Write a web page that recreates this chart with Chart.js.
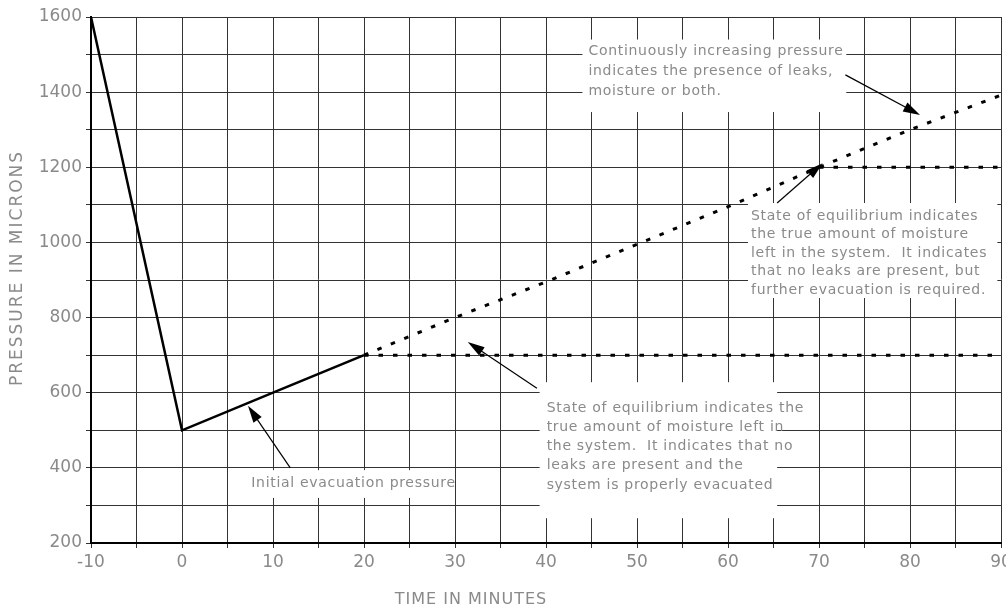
<!DOCTYPE html>
<html>
<head>
<meta charset="utf-8">
<script src="https://cdn.jsdelivr.net/npm/chart.js@4.4.1/dist/chart.umd.min.js"></script>
<style>
  html, body { margin: 0; padding: 0; background: #fff; }
  #wrap { width: 1006px; height: 611px; }
</style>
</head>
<body>
<div id="wrap"><canvas id="evacChart" width="1006" height="611"></canvas></div>
<script>
// minutes / microns
const initialTime = [-10, 0, 10, 20];
const initialPressure = [1600, 500, 600, 700];

const leakTime = [20, 30, 40, 50, 60, 70, 80, 90];
const leakPressure = [700, 800, 895, 995, 1095, 1200, 1300, 1392];

const dryTime = [20, 90];
const dryPressure = [700, 700];

const wetTime = [70, 90];
const wetPressure = [1200, 1200];

const timeTicks = [-10, 0, 10, 20, 30, 40, 50, 60, 70, 80, 90];
const pressureTicks = [200, 400, 600, 800, 1000, 1200, 1400, 1600];

// callouts: box and arrow given in chart units (minutes, microns)
const notes = [
  {
    lines: ['Continuously increasing pressure', 'indicates the presence of leaks,', 'moisture or both.'],
    box: [44, 73, 1540, 1347], padX: 6, padY: 12, lineH: 20,
    arrow: [72.9, 1446, 81.1, 1339]
  },
  {
    lines: ['State of equilibrium indicates', 'the true amount of moisture', 'left in the system.  It indicates', 'that no leaks are present, but', 'further evacuation is required.'],
    box: [62.2, 89.6, 1105, 852], padX: 3, padY: 13, lineH: 18.6,
    arrow: [65.4, 1105, 70.4, 1211]
  },
  {
    lines: ['State of equilibrium indicates the', 'true amount of moisture left in', 'the system.  It indicates that no', 'leaks are present and the', 'system is properly evacuated'],
    box: [39.3, 65.4, 628, 266], padX: 7, padY: 26, lineH: 19.2,
    arrow: [39.0, 612, 31.4, 735]
  },
  {
    lines: ['Initial evacuation pressure'],
    box: [7.5, 30.0, 394, 320], padX: 1, padY: 13, lineH: 18,
    arrow: [11.9, 400, 7.25, 565]
  }
];

const FONT = '"DejaVu Sans", "Liberation Sans", sans-serif';
const GREY = '#8a8a8a';

function pts(xs, ys) {
  return xs.map((x, i) => ({ x: x, y: ys[i] }));
}

const calloutBoxes = {
  id: 'calloutBoxes',
  beforeDatasetsDraw(chart) {
    const ctx = chart.ctx, sx = chart.scales.x, sy = chart.scales.y;
    ctx.save();
    ctx.fillStyle = '#fff';
    notes.forEach(n => {
      const x0 = sx.getPixelForValue(n.box[0]), x1 = sx.getPixelForValue(n.box[1]);
      const y0 = sy.getPixelForValue(n.box[2]), y1 = sy.getPixelForValue(n.box[3]);
      ctx.fillRect(x0, y0, x1 - x0, y1 - y0);
    });
    ctx.restore();
  },
  afterDatasetsDraw(chart) {
    const ctx = chart.ctx, sx = chart.scales.x, sy = chart.scales.y;
    ctx.save();
    // text
    ctx.font = '14px ' + FONT;
    ctx.letterSpacing = '0.7px';
    ctx.fillStyle = GREY;
    ctx.textBaseline = 'middle';
    ctx.textAlign = 'left';
    notes.forEach(n => {
      const x0 = sx.getPixelForValue(n.box[0]);
      const y0 = sy.getPixelForValue(n.box[2]);
      n.lines.forEach((t, i) => ctx.fillText(t, x0 + n.padX, y0 + n.padY + i * n.lineH));
    });
    // arrows
    ctx.strokeStyle = '#000';
    ctx.fillStyle = '#000';
    ctx.lineWidth = 1.2;
    notes.forEach(n => {
      const ax = sx.getPixelForValue(n.arrow[0]), ay = sy.getPixelForValue(n.arrow[1]);
      const bx = sx.getPixelForValue(n.arrow[2]), by = sy.getPixelForValue(n.arrow[3]);
      const ang = Math.atan2(by - ay, bx - ax);
      ctx.beginPath();
      ctx.moveTo(ax, ay);
      ctx.lineTo(bx - 10 * Math.cos(ang), by - 10 * Math.sin(ang));
      ctx.stroke();
      const L = 17, W = 5;
      ctx.beginPath();
      ctx.moveTo(bx, by);
      ctx.lineTo(bx - L * Math.cos(ang) + W * Math.sin(ang), by - L * Math.sin(ang) - W * Math.cos(ang));
      ctx.lineTo(bx - L * Math.cos(ang) - W * Math.sin(ang), by - L * Math.sin(ang) + W * Math.cos(ang));
      ctx.closePath();
      ctx.fill();
    });
    // axis titles
    ctx.fillStyle = GREY;
    ctx.font = '16px ' + FONT;
    ctx.letterSpacing = '1px';
    ctx.textAlign = 'center';
    ctx.fillText('TIME IN MINUTES', 471, 600);
    ctx.font = '17px ' + FONT;
    ctx.letterSpacing = '2px';
    ctx.translate(18, 268);
    ctx.rotate(-Math.PI / 2);
    ctx.fillText('PRESSURE IN MICRONS', 0, 0);
    ctx.restore();
  }
};

const lineStyle = { pointRadius: 0, borderColor: '#000', tension: 0, fill: false };

const ctx = document.getElementById('evacChart').getContext('2d');
const evacChart = new Chart(ctx, {
  type: 'line',
  data: {
    datasets: [
      Object.assign({ label: 'Initial', data: pts(initialTime, initialPressure), borderWidth: 2.5 }, lineStyle),
      Object.assign({ label: 'Leaks', data: pts(leakTime, leakPressure), borderWidth: 3, borderDash: [4.5, 10] }, lineStyle),
      Object.assign({ label: 'Dry', data: pts(dryTime, dryPressure), borderWidth: 3, borderDash: [4.5, 10] }, lineStyle),
      Object.assign({ label: 'Wet', data: pts(wetTime, wetPressure), borderWidth: 3, borderDash: [4.5, 10] }, lineStyle)
    ]
  },
  options: {
    responsive: false,
    animation: false,
    layout: { padding: { top: 17, right: 5, left: 0, bottom: 0 } },
    plugins: { legend: { display: false }, tooltip: { enabled: false } },
    scales: {
      x: {
        type: 'linear',
        min: -10,
        max: 90,
        border: { display: true, color: '#000', width: 2 },
        grid: { color: '#333', lineWidth: 1, tickLength: 5, tickColor: '#333' },
        ticks: {
          stepSize: 5,
          autoSkip: false,
          maxRotation: 0,
          padding: 4,
          color: GREY,
          font: { family: FONT, size: 17 },
          callback: v => timeTicks.includes(v) ? String(v) : ''
        },
        afterFit: s => { s.height = 68; s.paddingLeft = 0; s.paddingRight = 0; }
      },
      y: {
        min: 200,
        max: 1600,
        border: { display: true, color: '#000', width: 2 },
        grid: { color: '#333', lineWidth: 1, tickLength: 5, tickColor: '#333' },
        ticks: {
          stepSize: 100,
          autoSkip: false,
          padding: 4,
          color: GREY,
          font: { family: FONT, size: 17 },
          callback: v => pressureTicks.includes(v) ? String(v) : ''
        },
        afterFit: s => { s.width = 91; s.paddingTop = 0; s.paddingBottom = 0; }
      }
    }
  },
  plugins: [calloutBoxes]
});
</script>
</body>
</html>
